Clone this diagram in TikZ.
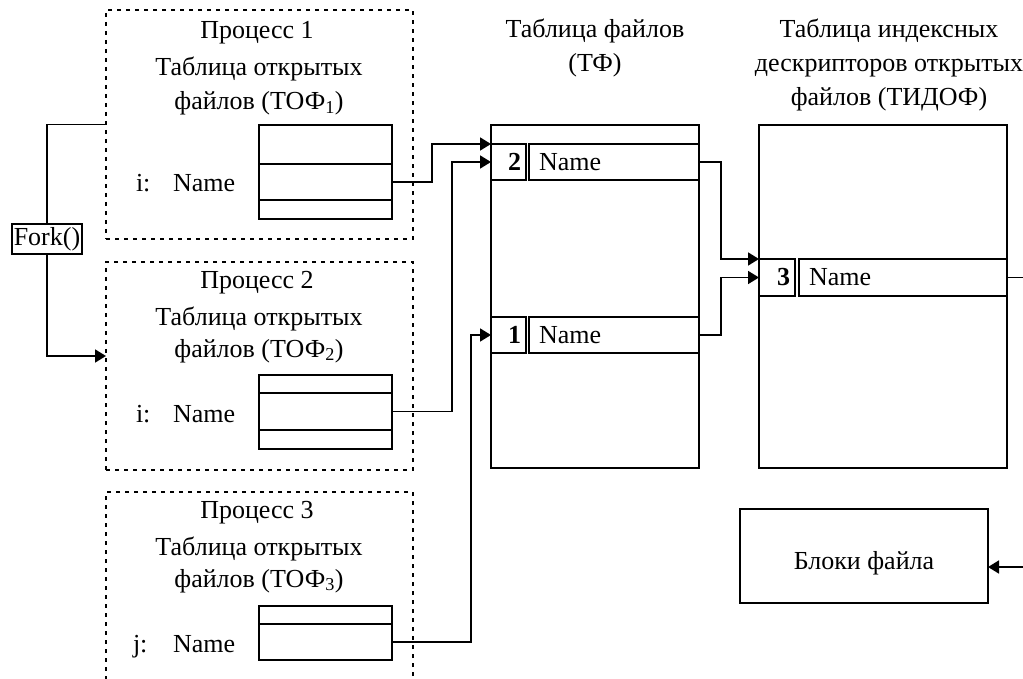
\documentclass[tikz,border=0pt]{standalone}
\usepackage{fontspec}
\setmainfont{Liberation Serif}
\usetikzlibrary{arrows.meta}
\begin{document}
\begin{tikzpicture}[x=1pt,y=-1pt,
  every node/.style={font=\fontsize{26}{31}\selectfont, inner sep=0pt, outer sep=0pt},
  line/.style={line width=1.8pt, line join=miter},
  arr/.style={line, -{Triangle[length=11pt,width=13pt]}},
  procbox/.style={draw, line width=1.8pt, dash pattern=on 4pt off 5pt, minimum width=307pt},
  cell/.style={draw, line width=1.8pt},
  numcell/.style={cell, minimum height=36pt, text width=25pt, inner xsep=5pt, align=right, font=\fontsize{26}{31}\selectfont\bfseries},
  namecell/.style={cell, minimum height=36pt, inner xsep=10pt, align=left},
  txt/.style={anchor=base}
]
\useasboundingbox (0,0) rectangle (1023,679);

% process frames
\node[procbox, minimum height=229pt] (p1) at (259.5,124.5) {};
\node[procbox, minimum height=208pt] (p2) at (259.5,366) {};
\node[procbox, minimum height=228pt] (p3) at (259.5,606) {};

% process captions
\node[txt] (p1t) at (257,39) {Процесс 1};
\node[txt] (p1a) at (259,76) {Таблица открытых};
\node[txt] (p1b) at (259,110) {файлов (ТОФ\textsubscript{1})};
\node[txt] (p2t) at (257,288) {Процесс 2};
\node[txt] (p2a) at (259,325) {Таблица открытых};
\node[txt] (p2b) at (259,357) {файлов (ТОФ\textsubscript{2})};
\node[txt] (p3t) at (257,518) {Процесс 3};
\node[txt] (p3a) at (259,555) {Таблица открытых};
\node[txt] (p3b) at (259,587) {файлов (ТОФ\textsubscript{3})};

% open-file tables of the processes
\node[cell, minimum width=133pt, minimum height=39pt] (t1a) at (325.5,144.5) {};
\node[cell, minimum width=133pt, minimum height=36pt] (t1b) at (325.5,182) {};
\node[cell, minimum width=133pt, minimum height=19pt] (t1c) at (325.5,209.5) {};
\node[cell, minimum width=133pt, minimum height=18pt] (t2a) at (325.5,384) {};
\node[cell, minimum width=133pt, minimum height=37pt] (t2b) at (325.5,411.5) {};
\node[cell, minimum width=133pt, minimum height=19pt] (t2c) at (325.5,439.5) {};
\node[cell, minimum width=133pt, minimum height=18pt] (t3a) at (325.5,615) {};
\node[cell, minimum width=133pt, minimum height=36pt] (t3b) at (325.5,642) {};

% descriptor labels
\node[anchor=base west] (i1) at (136,192) {i:};
\node[anchor=base west] (n1) at (173,192) {Name};
\node[anchor=base west] (i2) at (136,422) {i:};
\node[anchor=base west] (n2) at (173,422) {Name};
\node[anchor=base west] (j3) at (133,652) {j:};
\node[anchor=base west] (n3) at (173,652) {Name};

% fork
\node[draw, line width=1.5pt, inner xsep=2pt, inner ysep=3pt] (fork) at (47,239) {Fork()};
\draw[line] (p1.west) -| (fork.north);
\draw[arr] (fork.south) |- ([yshift=10pt]p2.west);

% file table
\node[txt] (fth1) at (595,38) {Таблица файлов};
\node[txt] (fth2) at (595,72) {(ТФ)};
\node[cell, minimum width=208pt, minimum height=343pt] (ft) at (595,296.5) {};
\node[numcell] (f2num) at (508.5,162) {2};
\node[namecell, minimum width=170pt, text width=150pt] (f2name) at (614,162) {Name};
\node[numcell] (f1num) at (508.5,335) {1};
\node[namecell, minimum width=170pt, text width=150pt] (f1name) at (614,335) {Name};

% inode table
\node[txt] (ith1) at (889,38) {Таблица индексных};
\node[txt] (ith2) at (889,72) {дескрипторов открытых};
\node[txt] (ith3) at (889,106) {файлов (ТИДОФ)};
\node[cell, minimum width=248pt, minimum height=343pt] (it) at (883,296.5) {};
\node[numcell, minimum height=37pt, text width=26pt] (i3num) at (777,277.5) {3};
\node[namecell, minimum height=37pt, minimum width=208pt, text width=188pt] (i3name) at (903,277.5) {Name};

% file blocks
\node[cell, minimum width=248pt, minimum height=94pt, text height=26pt, text depth=0pt] (blk) at (864,556) {Блоки файла};

% connectors
\draw[arr] (t1b.east) -- ++(40,0) |- (f2num.north west);
\draw[arr] (t2b.east) -- ++(60,0) |- (f2num.west);
\draw[arr] (t3b.east) -- ++(79,0) |- (f1num.west);
\draw[arr] (f2name.east) -- ++(22,0) |- (i3num.north west);
\draw[arr] (f1name.east) -- ++(22,0) |- (i3num.west);
\draw[arr] (i3name.east) -- ++(30,0) |- ([yshift=-11pt]blk.east);
\end{tikzpicture}
\end{document}
